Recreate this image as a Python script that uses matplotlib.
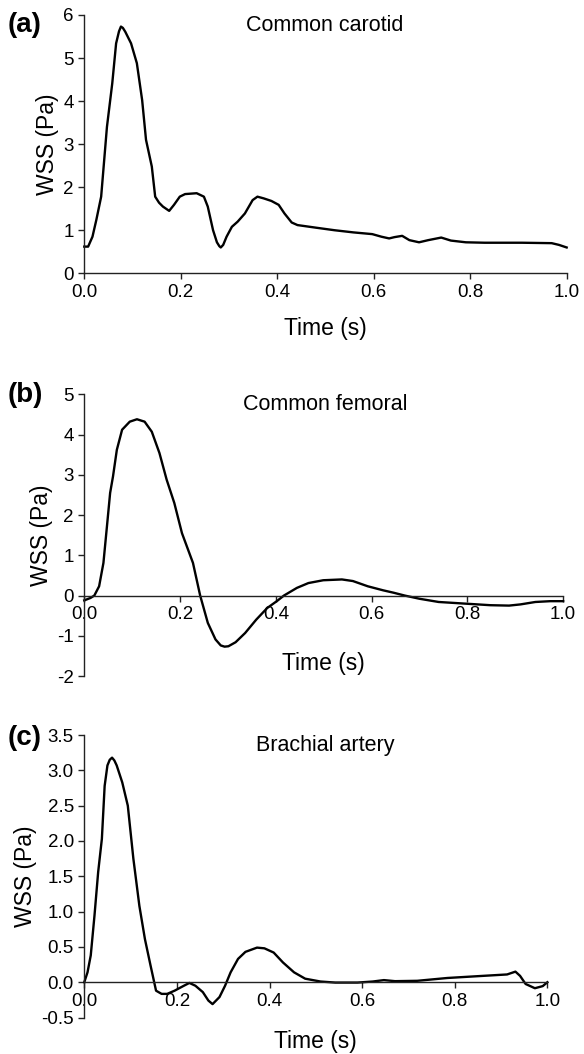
import numpy as np
import matplotlib.pyplot as plt

plt.rcParams['font.family'] = ['Liberation Sans', 'DejaVu Sans']

# (a) common carotid
t_car = [0.0, 0.008, 0.017, 0.025, 0.035, 0.047, 0.058, 0.066, 0.072, 0.076,
         0.080, 0.085, 0.097, 0.109, 0.12, 0.128, 0.14, 0.147, 0.155, 0.163,
         0.176, 0.186, 0.198, 0.209, 0.233, 0.248, 0.256, 0.267, 0.275, 0.280,
         0.283, 0.288, 0.295, 0.306, 0.318, 0.333, 0.349, 0.359, 0.372, 0.388,
         0.403, 0.415, 0.43, 0.442, 0.48, 0.519, 0.558, 0.597, 0.616, 0.632,
         0.643, 0.659, 0.674, 0.694, 0.713, 0.74, 0.76, 0.791, 0.83, 0.907,
         0.969, 0.984, 1.0]
wss_car = [0.62, 0.62, 0.85, 1.24, 1.78, 3.4, 4.41, 5.34, 5.62, 5.73,
           5.70, 5.61, 5.34, 4.88, 4.02, 3.1, 2.48, 1.78, 1.64, 1.55,
           1.45, 1.59, 1.78, 1.84, 1.86, 1.78, 1.55, 1.0, 0.72, 0.63,
           0.60, 0.66, 0.85, 1.08, 1.2, 1.39, 1.70, 1.78, 1.74, 1.68,
           1.59, 1.39, 1.18, 1.12, 1.06, 1.0, 0.95, 0.91, 0.85, 0.81,
           0.84, 0.87, 0.77, 0.72, 0.77, 0.83, 0.76, 0.72, 0.71, 0.71,
           0.70, 0.66, 0.60]

# (b) common femoral
t_fem = [0.0, 0.013, 0.021, 0.031, 0.04, 0.048, 0.054, 0.06, 0.068, 0.079,
         0.095, 0.11, 0.126, 0.141, 0.157, 0.172, 0.188, 0.204, 0.227, 0.242,
         0.258, 0.274, 0.285, 0.293, 0.301, 0.316, 0.336, 0.359, 0.382, 0.402,
         0.417, 0.444, 0.468, 0.499, 0.538, 0.561, 0.592, 0.624, 0.646, 0.669,
         0.70, 0.74, 0.794, 0.848, 0.887, 0.911, 0.942, 0.973, 1.0]
wss_fem = [-0.12, -0.06, 0.0, 0.23, 0.81, 1.8, 2.55, 2.96, 3.62, 4.12,
           4.32, 4.38, 4.32, 4.07, 3.54, 2.88, 2.30, 1.55, 0.81, 0.0,
           -0.68, -1.09, -1.24, -1.27, -1.26, -1.16, -0.93, -0.6, -0.31, -0.14,
           0.0, 0.19, 0.31, 0.38, 0.40, 0.36, 0.23, 0.13, 0.07, 0.0,
           -0.08, -0.16, -0.2, -0.24, -0.25, -0.22, -0.16, -0.14, -0.14]

# (c) brachial artery
t_bra = [0.0, 0.007, 0.014, 0.022, 0.03, 0.038, 0.044, 0.05, 0.055, 0.06,
         0.065, 0.07, 0.082, 0.094, 0.106, 0.119, 0.131, 0.143, 0.155, 0.167,
         0.179, 0.195, 0.215, 0.227, 0.24, 0.256, 0.268, 0.277, 0.292, 0.304,
         0.316, 0.332, 0.348, 0.373, 0.389, 0.409, 0.429, 0.453, 0.477, 0.51,
         0.542, 0.59, 0.623, 0.647, 0.671, 0.719, 0.784, 0.848, 0.913, 0.931,
         0.941, 0.953, 0.973, 0.99, 1.0]
wss_bra = [0.0, 0.14, 0.38, 0.94, 1.56, 2.03, 2.78, 3.07, 3.15, 3.18,
           3.14, 3.07, 2.83, 2.5, 1.75, 1.08, 0.61, 0.24, -0.12, -0.165,
           -0.165, -0.12, -0.05, -0.01, -0.05, -0.14, -0.26, -0.31, -0.21, -0.05,
           0.14, 0.33, 0.43, 0.49, 0.48, 0.42, 0.28, 0.14, 0.05, 0.01,
           -0.005, -0.005, 0.01, 0.03, 0.015, 0.02, 0.06, 0.085, 0.11, 0.15,
           0.09, -0.025, -0.085, -0.055, 0.0]

panels = [
    # data, tag, title, ylim, yticks, axes rect, xlabel pad, ytick format, tag y (px)
    (t_car, wss_car, '(a)', 'Common carotid', (0, 6), np.arange(0, 7, 1),
     [0.1443, 0.7407, 0.826, 0.2451], 12, '%d', 25),
    (t_fem, wss_fem, '(b)', 'Common femoral', (-2, 5), np.arange(-2, 6, 1),
     [0.1443, 0.3586, 0.820, 0.2673], 21, '%d', 395),
    (t_bra, wss_bra, '(c)', 'Brachial artery', (-0.5, 3.5), np.arange(-0.5, 3.6, 0.5),
     [0.1443, 0.0346, 0.793, 0.2680], 15, '%.1f', 738),
]

fig = plt.figure(figsize=(5.84, 10.54), dpi=100)

for t, wss, tag, title, ylim, yticks, rect, lpad, yfmt, tag_y in panels:
    ax = fig.add_axes(rect)
    ax.plot(t, wss, color='black', lw=1.7, clip_on=False,
            solid_joinstyle='round')
    ax.set_xlim(0, 1)
    ax.set_ylim(*ylim)
    ax.set_xticks(np.arange(0, 1.01, 0.2))
    ax.set_xticklabels(['%.1f' % v for v in np.arange(0, 1.01, 0.2)])
    ax.set_yticks(yticks)
    ax.set_yticklabels([yfmt % v for v in yticks])

    ax.spines['top'].set_visible(False)
    ax.spines['right'].set_visible(False)
    ax.spines['bottom'].set_position(('data', 0))
    for s in ['left', 'bottom']:
        ax.spines[s].set_linewidth(1.0)
        ax.spines[s].set_color('#222222')
    ax.tick_params(direction='out', length=4.5, width=1.0, color='#222222',
                   labelsize=13.5, pad=3)

    ax.set_xlabel('Time (s)', fontsize=16.5, labelpad=lpad)
    ax.set_ylabel('WSS (Pa)', fontsize=16.5, labelpad=3)

    # panel title sits at the same figure x in every panel
    fx = (325 / 584 - rect[0]) / rect[2]
    ax.text(fx, 1.0, title, transform=ax.transAxes, ha='center', va='top',
            fontsize=15.5)
    fig.text(8 / 584, 1 - tag_y / 1054, tag, ha='left', va='center',
             fontsize=20, fontweight='bold')

fig.savefig('out.png', dpi=100)
